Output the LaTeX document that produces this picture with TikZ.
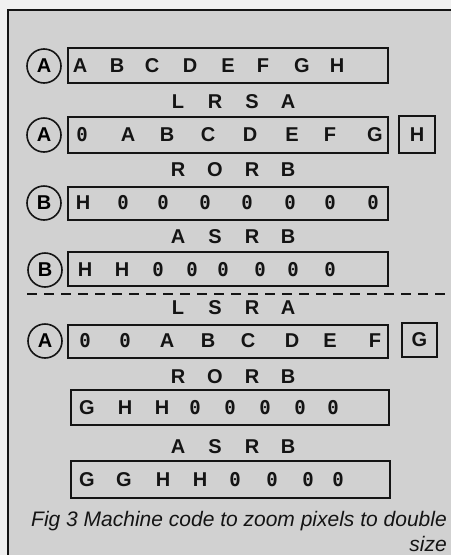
\documentclass[tikz,border=0pt]{standalone}
\usepackage{fontspec}
\setmainfont{Liberation Sans}
\newfontfamily\zfont{DejaVu Sans Mono}
\definecolor{paper}{gray}{0.94}
\definecolor{stip}{gray}{0.82}
\definecolor{ink}{gray}{0.08}
\begin{document}
\begin{tikzpicture}[x=1pt,y=-1pt,
  regbox/.style={draw=ink,line width=1.8pt,rectangle,inner sep=0pt},
  regcirc/.style={draw=ink,line width=1.6pt,circle,minimum size=34pt,inner sep=0pt,font=\fontsize{20}{20}\selectfont\bfseries},
  let/.style={inner sep=0pt,text=ink,font=\fontsize{20}{20}\selectfont\bfseries},
  zer/.style={inner sep=0pt,text=ink,font=\fontsize{19}{19}\selectfont\zfont\bfseries},
  op/.style={inner sep=0pt,text=ink,font=\fontsize{20}{20}\selectfont\bfseries},
  captext/.style={inner sep=0pt,text=ink,font=\fontsize{21}{24}\selectfont\itshape}]
\useasboundingbox (0,0) rectangle (451,555);
\fill[paper] (0,0) rectangle (451,555);
\fill[stip] (8,10) rectangle (451,555);
\draw[ink,line width=1.8pt] (8,555) -- (8,10) -- (451,10);

% register boxes
\node[regbox,minimum width=320pt,minimum height=35pt] (b1) at (228,65.5) {};
\node[regbox,minimum width=320pt,minimum height=36pt] (b2) at (228,135) {};
\node[regbox,minimum width=320pt,minimum height=33pt] (b3) at (228,203.5) {};
\node[regbox,minimum width=320pt,minimum height=34pt] (b4) at (228,269) {};
\node[regbox,minimum width=320pt,minimum height=33pt] (b5) at (228,341.5) {};
\node[regbox,minimum width=318pt,minimum height=35pt] (b6) at (230,407.5) {};
\node[regbox,minimum width=319pt,minimum height=37pt] (b7) at (230.5,479.5) {};
\node[regbox,minimum width=36pt,minimum height=37pt,let] (hb) at (417,134.5) {H};
\node[regbox,minimum width=35pt,minimum height=34pt,let] (gb) at (419.5,340) {G};

% circles
\node[regcirc] (c1) at (44,66) {A};
\node[regcirc] (c2) at (44,135) {A};
\node[regcirc] (c3) at (44,203) {B};
\node[regcirc] (c4) at (45,270) {B};
\node[regcirc] (c5) at (45,341) {A};

% row contents
\foreach \x/\t [count=\i] in {80/A,117/B,152/C,190/D,228/E,263/F,302/G,337/H}
  \node[let] (r1l\i) at (\x,66) {\t};
\node[zer] (r2l1) at (82,135) {0};
\foreach \x/\t [count=\i from 2] in {128/A,167/B,208/C,250/D,292/E,330/F,375/G}
  \node[let] (r2l\i) at (\x,135) {\t};
\node[let] (r3l1) at (83,203) {H};
\foreach \x [count=\i from 2] in {123,163,205,247,290,330,373}
  \node[zer] (r3l\i) at (\x,203) {0};
\node[let] (r4l1) at (85,270) {H};
\node[let] (r4l2) at (122,270) {H};
\foreach \x [count=\i from 3] in {158,192,223,260,293,330}
  \node[zer] (r4l\i) at (\x,270) {0};
\node[zer] (r5l1) at (85,341) {0};
\node[zer] (r5l2) at (125,341) {0};
\foreach \x/\t [count=\i from 3] in {167/A,208/B,248/C,292/D,330/E,375/F}
  \node[let] (r5l\i) at (\x,341) {\t};
\node[let] (r6l1) at (87,408) {G};
\node[let] (r6l2) at (125,408) {H};
\node[let] (r6l3) at (162,408) {H};
\foreach \x [count=\i from 4] in {195,230,265,300,333}
  \node[zer] (r6l\i) at (\x,408) {0};
\node[let] (r7l1) at (87,480) {G};
\node[let] (r7l2) at (124,480) {G};
\node[let] (r7l3) at (163,480) {H};
\node[let] (r7l4) at (200,480) {H};
\foreach \x [count=\i from 5] in {235,272,308,338}
  \node[zer] (r7l\i) at (\x,480) {0};

% instruction labels
\foreach \y/\a/\b/\c/\d [count=\k] in {102/L/R/S/A,170/R/O/R/B,237/A/S/R/B,308/L/S/R/A,377/R/O/R/B,447/A/S/R/B}{
  \node[op] (o\k a) at (178,\y) {\a};
  \node[op] (o\k b) at (215,\y) {\b};
  \node[op] (o\k c) at (252,\y) {\c};
  \node[op] (o\k d) at (288,\y) {\d};
}

% dashed separator
\coordinate (dl) at (27,294);
\coordinate (dr) at (451,294);
\draw[ink,line width=1.6pt,dash pattern=on 10pt off 7pt] (dl) -- (dr);

% caption
\node[captext,anchor=east] (cap1) at (447,521) {Fig 3 Machine code to zoom pixels to double};
\node[captext,anchor=east] (cap2) at (447,544) {size};
\end{tikzpicture}
\end{document}
